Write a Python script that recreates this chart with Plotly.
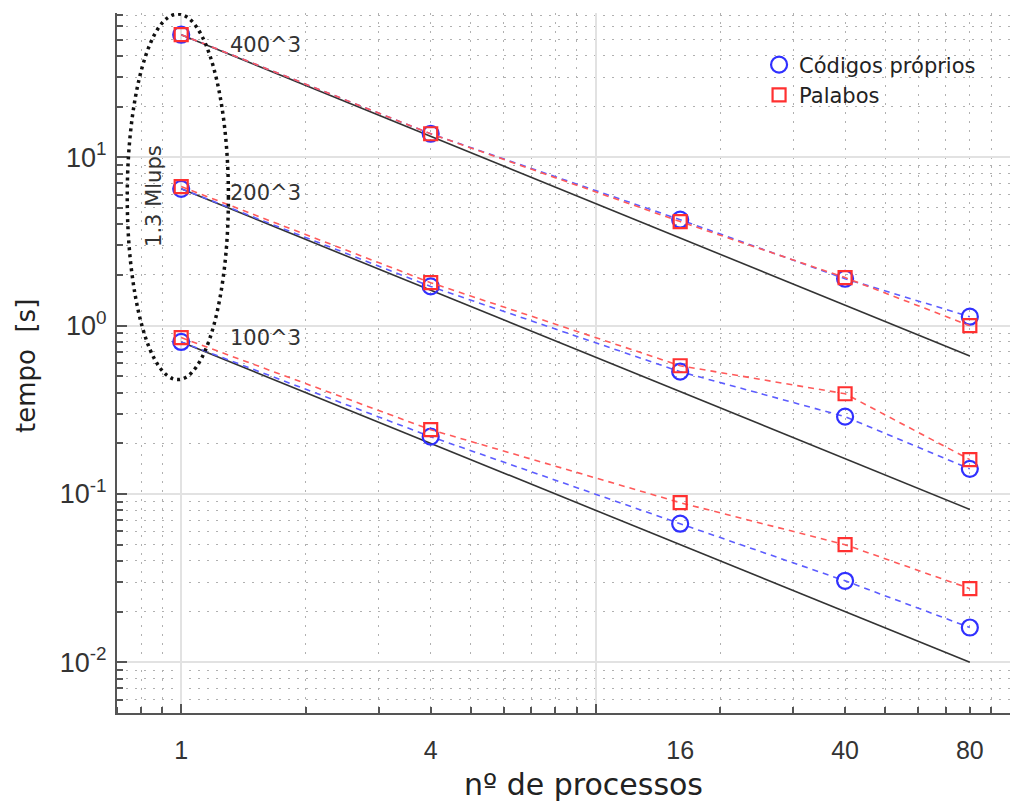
import math
import plotly.graph_objects as go

# number of processes
procs = [1, 4, 16, 40, 80]
proc_labels = ["1", "4", "16", "40", "80"]

# run time [s] of the in-house code
own_400 = [53.5, 13.8, 4.26, 1.90, 1.13]
own_200 = [6.5, 1.71, 0.533, 0.288, 0.141]
own_100 = [0.80, 0.219, 0.0666, 0.0305, 0.0161]

# run time [s] of Palabos
palabos_400 = [53.5, 13.8, 4.15, 1.93, 1.00]
palabos_200 = [6.7, 1.80, 0.578, 0.394, 0.160]
palabos_100 = [0.849, 0.241, 0.0888, 0.050, 0.0274]

# ideal (linear) scaling reference lines
ideal_x = [1, 80]
ideal_400 = [53.5, 0.66]
ideal_200 = [6.5, 0.081]
ideal_100 = [0.80, 0.010]

grid_sizes = ["400^3", "200^3", "100^3"]
label_y = [46.5, 6.15, 0.845]

y_ticks = [0.01, 0.1, 1, 10]
y_ticktext = ["10<sup>-2</sup>", "10<sup>-1</sup>", "10<sup>0</sup>", "10<sup>1</sup>"]
x_decades = [1, 10, 100]

BLUE = "#3030ff"
RED = "#ff3030"
BLUE_LINE = "#5c5cff"
RED_LINE = "#ff5a5a"
INK = "#333333"
AXIS = "#555555"
GRID_MAJOR = "#e2e2e2"
GRID_MINOR = "#b0b0b0"
X_RANGE = [math.log10(0.7), 2]

fig = go.Figure()

for ideal in (ideal_400, ideal_200, ideal_100):
    fig.add_trace(go.Scatter(
        x=ideal_x, y=ideal, mode="lines",
        line=dict(color="#333333", width=1.6),
        showlegend=False, hoverinfo="skip"))

for series in (own_400, own_200, own_100):
    fig.add_trace(go.Scatter(
        x=procs, y=series, mode="lines+markers",
        line=dict(color=BLUE_LINE, width=1.6, dash="6px,5px"),
        marker=dict(symbol="circle-open", size=16, color=BLUE,
                    line=dict(width=2.2, color=BLUE)),
        showlegend=False))

for series in (palabos_400, palabos_200, palabos_100):
    fig.add_trace(go.Scatter(
        x=procs, y=series, mode="lines+markers",
        line=dict(color=RED_LINE, width=1.6, dash="6px,5px"),
        marker=dict(symbol="square-open", size=13, color=RED,
                    line=dict(width=2.2, color=RED)),
        showlegend=False))

# legend entries (markers only)
fig.add_trace(go.Scatter(
    x=[None], y=[None], mode="markers", name="Códigos próprios",
    marker=dict(symbol="circle-open", size=16, color=BLUE,
                line=dict(width=2.2, color=BLUE))))
fig.add_trace(go.Scatter(
    x=[None], y=[None], mode="markers", name="Palabos",
    marker=dict(symbol="square-open", size=13, color=RED,
                line=dict(width=2.2, color=RED))))

# empty trace that carries the decade grid axis
fig.add_trace(go.Scatter(x=[None], y=[None], xaxis="x2", yaxis="y",
                         mode="markers", showlegend=False, hoverinfo="skip"))

# minor tick positions (2..9 per decade)
x_minor = [m * 10 ** e for e in (-1, 0, 1) for m in range(2, 10)
           if 0.7 <= m * 10 ** e <= 100]
y_minor = [m * 10 ** e for e in (-3, -2, -1, 0, 1) for m in range(2, 10)
           if 0.005 <= m * 10 ** e <= 72]

# dotted ellipse around the single-process runs
shapes = [dict(type="circle", xref="x", yref="y",
               x0=0.741, x1=1.30, y0=0.478, y1=71,
               line=dict(color="#111111", width=3.5, dash="3px,4px"))]

annotations = []
for txt, yv in zip(grid_sizes, label_y):
    annotations.append(dict(
        x=math.log10(1.30), y=math.log10(yv), xref="x", yref="y",
        text=txt, showarrow=False, xanchor="left", yanchor="middle",
        font=dict(family="DejaVu Sans", size=21, color=INK)))
annotations.append(dict(
    x=math.log10(0.86), y=math.log10(5.9), xref="x", yref="y",
    text="1.3 Mlups", showarrow=False, textangle=-90,
    xanchor="center", yanchor="middle",
    font=dict(family="DejaVu Sans", size=21, color=INK)))
# axis titles
annotations.append(dict(
    x=583, y=784, xref="paper", yref="paper", text="nº de processos",
    showarrow=False, xanchor="center", yanchor="middle",
    font=dict(family="DejaVu Sans", size=30, color="#222222")))
annotations.append(dict(
    x=26, y=366, xref="paper", yref="paper", text="tempo  [s]",
    showarrow=False, textangle=-90, xanchor="center", yanchor="middle",
    font=dict(family="DejaVu Sans", size=26, color="#222222")))

# convert the two title annotations from pixels to paper fractions
PLOT_L, PLOT_R, PLOT_T, PLOT_B = 117, 1010, 13, 713
for a in annotations[-2:]:
    a["x"] = (a["x"] - PLOT_L) / (PLOT_R - PLOT_L)
    a["y"] = (PLOT_B - a["y"]) / (PLOT_B - PLOT_T)

fig.update_layout(
    width=1022, height=802,
    margin=dict(l=PLOT_L, r=1022 - PLOT_R, t=PLOT_T, b=802 - PLOT_B),
    paper_bgcolor="white", plot_bgcolor="white",
    shapes=shapes, annotations=annotations,
    legend=dict(x=0.719, y=0.955, xanchor="left", yanchor="top",
                bgcolor="rgba(0,0,0,0)", itemwidth=30,
                font=dict(family="DejaVu Sans", size=21, color="#222222")),
    xaxis=dict(
        type="log", range=X_RANGE, automargin=False,
        tickmode="array", tickvals=procs, ticktext=proc_labels,
        ticks="", showgrid=False, zeroline=False,
        showline=True, linecolor=AXIS, linewidth=2,
        tickfont=dict(family="Liberation Sans", size=25, color=INK),
        ticklabelstandoff=14,
        minor=dict(tickmode="array", tickvals=x_minor, ticks="inside",
                   ticklen=6, tickwidth=1.5, tickcolor=AXIS,
                   showgrid=True, gridcolor=GRID_MINOR, gridwidth=1,
                   griddash="2px,7px"),
    ),
    xaxis2=dict(
        type="log", range=X_RANGE, overlaying="x", anchor="y", side="bottom",
        automargin=False, tickmode="array", tickvals=x_decades,
        ticks="inside", ticklen=9, tickwidth=2, tickcolor=AXIS,
        showticklabels=False, showgrid=True, gridcolor=GRID_MAJOR,
        gridwidth=2, zeroline=False, showline=False,
    ),
    yaxis=dict(
        type="log", range=[math.log10(0.005), math.log10(72)], automargin=False,
        tickmode="array", tickvals=y_ticks, ticktext=y_ticktext,
        ticks="inside", ticklen=10, tickwidth=2, tickcolor=AXIS,
        showgrid=True, gridcolor=GRID_MAJOR, gridwidth=2, zeroline=False,
        showline=True, linecolor=AXIS, linewidth=2,
        tickfont=dict(family="Liberation Sans", size=27, color=INK),
        ticklabelstandoff=3,
        minor=dict(tickmode="array", tickvals=y_minor, ticks="inside",
                   ticklen=6, tickwidth=1.5, tickcolor=AXIS,
                   showgrid=True, gridcolor=GRID_MINOR, gridwidth=1,
                   griddash="2px,7px"),
    ),
)

fig.write_html("out.html")
